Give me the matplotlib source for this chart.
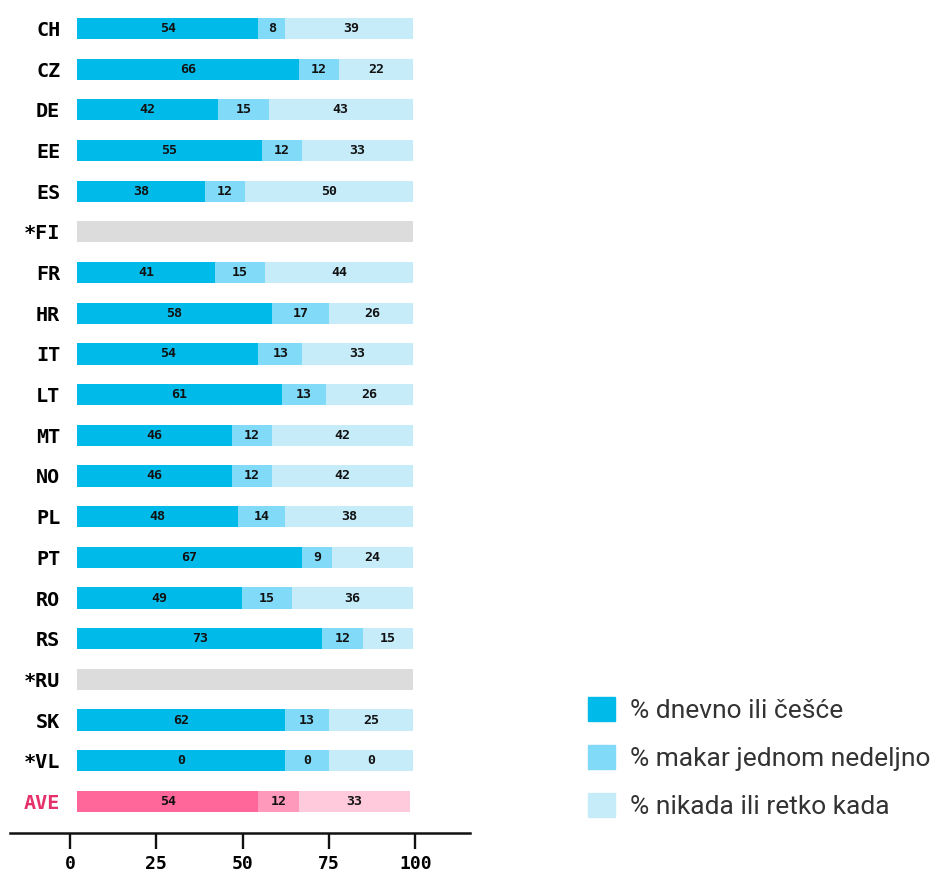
import matplotlib
matplotlib.use("Agg")
import matplotlib.pyplot as plt
from matplotlib.patches import Patch

countries = ["CH", "CZ", "DE", "EE", "ES", "*FI", "FR", "HR", "IT", "LT",
             "MT", "NO", "PL", "PT", "RO", "RS", "*RU", "SK", "*VL", "AVE"]
# None = no data (grey bar)
daily = [54, 66, 42, 55, 38, None, 41, 58, 54, 61, 46, 46, 48, 67, 49, 73, None, 62, 62, 54]
weekly = [8, 12, 15, 12, 12, None, 15, 17, 13, 13, 12, 12, 14, 9, 15, 12, None, 13, 13, 12]
rarely = [39, 22, 43, 33, 50, None, 44, 26, 33, 26, 42, 42, 38, 24, 36, 15, None, 25, 25, 33]
# *VL shows 0 in its labels
shown = {"*VL": [0, 0, 0]}

legend_labels = ["% dnevno ili češće", "% makar jednom nedeljno", "% nikada ili retko kada"]
ticks = [0, 25, 50, 75, 100]

blue = ["#00bbea", "#80daf8", "#c6ebf9"]
pink = ["#ff6699", "#ff99bb", "#ffcadb"]
grey = "#dcdcdc"
ave_color = "#e5306a"

W, H = 938, 872
fig = plt.figure(figsize=(W / 100, H / 100), dpi=100)

# bar axes: 0..100 spans pixels 77..413, rows 40.7 px apart
row = 40.68
top = 28.5 - row / 2
n = len(countries)
ax = fig.add_axes([77 / W, (H - (top + n * row)) / H, 336 / W, n * row / H])
ax.set_xlim(0, 100)
ax.set_ylim(n - 0.5, -0.5)

bar_h = 0.52
for i, c in enumerate(countries):
    if daily[i] is None:
        ax.barh(i, 100, height=bar_h, color=grey)
        continue
    cols = pink if c == "AVE" else blue
    vals = [daily[i], weekly[i], rarely[i]]
    labs = shown.get(c, vals)
    left = 0
    for v, col, lab in zip(vals, cols, labs):
        ax.barh(i, v, left=left, height=bar_h, color=col, linewidth=0)
        ax.text(left + v / 2, i, str(lab), ha="center", va="center",
                fontsize=9.5, fontweight="bold", family="DejaVu Sans Mono", color="#111111")
        left += v

ax.set_yticks(range(n))
ax.set_yticklabels(countries, fontsize=14.5, fontweight="heavy", family="DejaVu Sans Mono")
ax.get_yticklabels()[-1].set_color(ave_color)
ax.tick_params(axis="y", length=0, pad=12)
ax.set_xticks([])
for s in ax.spines.values():
    s.set_visible(False)

# separate axis line: 0 at 70 px, 100 at 415.3 px
px = 3.453
ax2 = fig.add_axes([10 / W, (H - 833) / H, 460 / W, 0.001])
ax2.set_xlim((10 - 70) / px, (470 - 70) / px)
ax2.set_xticks(ticks)
ax2.set_xticklabels([str(t) for t in ticks], fontsize=13, fontweight="bold", family="DejaVu Sans Mono")
ax2.tick_params(axis="x", direction="out", length=11.5, width=1.7, pad=4, color="#111111")
ax2.set_yticks([])
for k in ["top", "left", "right"]:
    ax2.spines[k].set_visible(False)
ax2.spines["bottom"].set_linewidth(1.8)
ax2.spines["bottom"].set_color("#111111")
ax2.patch.set_visible(False)

handles = [Patch(color=c) for c in blue]
fig.legend(handles, legend_labels, loc="upper left", bbox_to_anchor=(575 / W, (H - 684) / H),
           frameon=False, borderpad=0, handlelength=1, handleheight=1, handletextpad=0.6,
           labelspacing=0.84, prop={"family": "Roboto", "size": 19},
           labelcolor="#333333")

fig.savefig("out.png", dpi=100)
